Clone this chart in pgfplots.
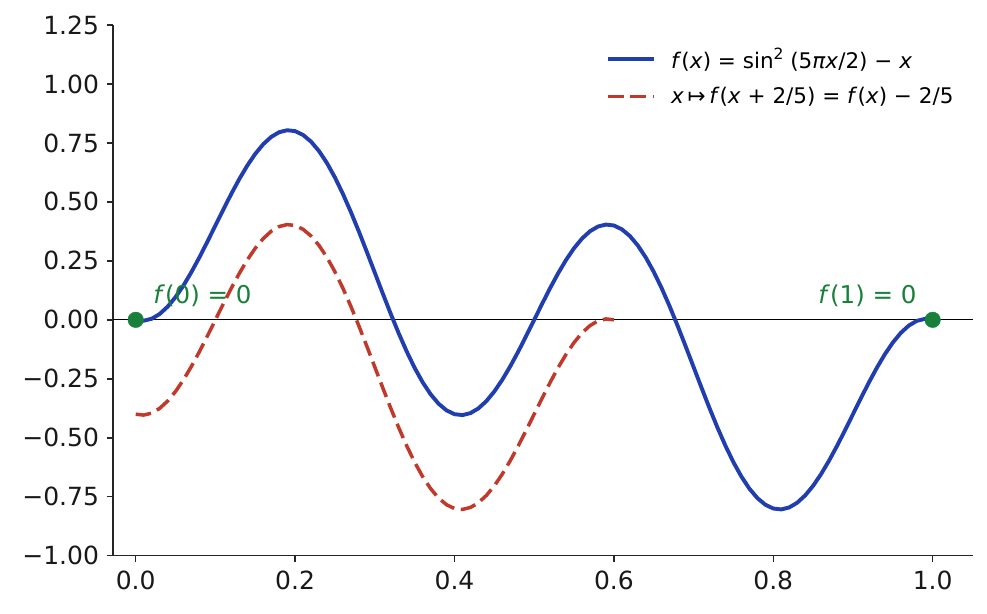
\documentclass[border=0pt]{standalone}
\usepackage{fontspec}
\setmainfont{DejaVu Sans}
\usepackage{pgfplots}
\usepackage{pgfplotstable}
\pgfplotsset{compat=1.18}

\definecolor{fblue}{RGB}{33,62,175}
\definecolor{gred}{RGB}{192,57,43}
\definecolor{dgreen}{RGB}{24,128,58}

% f(x) = sin^2(5 pi x/2) - x, sampled every 0.01
\pgfplotstableread{
x y
0.00 0.0
0.01 -0.0038
0.02 0.0045
0.03 0.0245
0.04 0.0555
0.05 0.0964
0.06 0.1461
0.07 0.2030
0.08 0.2655
0.09 0.3318
0.10 0.4
0.11 0.4682
0.12 0.5345
0.13 0.5970
0.14 0.6539
0.15 0.7036
0.16 0.7445
0.17 0.7755
0.18 0.7955
0.19 0.8038
0.20 0.8
0.21 0.7838
0.22 0.7555
0.23 0.7155
0.24 0.6645
0.25 0.6036
0.26 0.5339
0.27 0.4570
0.28 0.3745
0.29 0.2882
0.30 0.2
0.31 0.1118
0.32 0.0255
0.33 -0.0570
0.34 -0.1339
0.35 -0.2036
0.36 -0.2645
0.37 -0.3155
0.38 -0.3555
0.39 -0.3838
0.40 -0.4
0.41 -0.4038
0.42 -0.3955
0.43 -0.3755
0.44 -0.3445
0.45 -0.3036
0.46 -0.2539
0.47 -0.1970
0.48 -0.1345
0.49 -0.0682
0.50 0.0
0.51 0.0682
0.52 0.1345
0.53 0.1970
0.54 0.2539
0.55 0.3036
0.56 0.3445
0.57 0.3755
0.58 0.3955
0.59 0.4038
0.60 0.4
0.61 0.3838
0.62 0.3555
0.63 0.3155
0.64 0.2645
0.65 0.2036
0.66 0.1339
0.67 0.0570
0.68 -0.0255
0.69 -0.1118
0.70 -0.2
0.71 -0.2882
0.72 -0.3745
0.73 -0.4570
0.74 -0.5339
0.75 -0.6036
0.76 -0.6645
0.77 -0.7155
0.78 -0.7555
0.79 -0.7838
0.80 -0.8
0.81 -0.8038
0.82 -0.7955
0.83 -0.7755
0.84 -0.7445
0.85 -0.7036
0.86 -0.6539
0.87 -0.5970
0.88 -0.5345
0.89 -0.4682
0.90 -0.4
0.91 -0.3318
0.92 -0.2655
0.93 -0.2030
0.94 -0.1461
0.95 -0.0964
0.96 -0.0555
0.97 -0.0245
0.98 -0.0045
0.99 0.0038
1.00 0.0
}\fdata

% x -> f(x+2/5) = f(x) - 2/5 on [0, 0.6]
\pgfplotstableread{
x y
0.00 -0.4
0.01 -0.4038
0.02 -0.3955
0.03 -0.3755
0.04 -0.3445
0.05 -0.3036
0.06 -0.2539
0.07 -0.1970
0.08 -0.1345
0.09 -0.0682
0.10 0.0
0.11 0.0682
0.12 0.1345
0.13 0.1970
0.14 0.2539
0.15 0.3036
0.16 0.3445
0.17 0.3755
0.18 0.3955
0.19 0.4038
0.20 0.4
0.21 0.3838
0.22 0.3555
0.23 0.3155
0.24 0.2645
0.25 0.2036
0.26 0.1339
0.27 0.0570
0.28 -0.0255
0.29 -0.1118
0.30 -0.2
0.31 -0.2882
0.32 -0.3745
0.33 -0.4570
0.34 -0.5339
0.35 -0.6036
0.36 -0.6645
0.37 -0.7155
0.38 -0.7555
0.39 -0.7838
0.40 -0.8
0.41 -0.8038
0.42 -0.7955
0.43 -0.7755
0.44 -0.7445
0.45 -0.7036
0.46 -0.6539
0.47 -0.5970
0.48 -0.5345
0.49 -0.4682
0.50 -0.4
0.51 -0.3318
0.52 -0.2655
0.53 -0.2030
0.54 -0.1461
0.55 -0.0964
0.56 -0.0555
0.57 -0.0245
0.58 -0.0045
0.59 0.0038
0.60 0.0
}\gdata

% endpoints
\pgfplotstableread{
x y
0 0
1 0
}\ends

\newcommand{\sq}{\raisebox{0.42em}{\fontsize{15.5}{18}\selectfont 2}}

\begin{document}
\begin{tikzpicture}
\begin{axis}[
    name=ax,
    scale only axis,
    width=860.3pt, height=530.7pt,
    xmin=-0.0285, xmax=1.051,
    ymin=-1, ymax=1.25,
    axis x line*=bottom, axis y line*=left,
    axis line style={line width=1.5pt, black!85},
    tick align=outside,
    major tick length=6.5pt,
    tick style={line width=1.5pt, black!85},
    xtick={0,0.2,0.4,0.6,0.8,1},
    xticklabels={0.0,0.2,0.4,0.6,0.8,1.0},
    ytick={-1,-0.75,-0.5,-0.25,0,0.25,0.5,0.75,1,1.25},
    yticklabels={−1.00,−0.75,−0.50,−0.25,0.00,0.25,0.50,0.75,1.00,1.25},
    ticklabel style={font=\fontsize{25}{30}\selectfont, text=black!90},
    xticklabel style={yshift=-5pt},
    yticklabel style={xshift=-4pt},
    legend style={draw=none, fill=none, at={(0.5697,0.964)}, anchor=north west,
        font=\fontsize{21.5}{26}\selectfont, row sep=13pt,
        /tikz/every odd column/.append style={column sep=13pt}},
    legend cell align=left,
    legend image code/.code={\draw[#1] (0pt,0pt) -- (46pt,0pt);},
]
    % zero line
    \addplot[black, line width=1.1pt, forget plot] coordinates {(-0.0285,0) (1.051,0)};

    \addplot[fblue, line width=3.9pt] table[x=x, y=y] {\fdata};
    \addlegendentry{\textit{f}(\textit{x}) = sin\sq\ (5\textit{πx}/2) − \textit{x}}

    \addplot[gred, line width=3.5pt, dash pattern=on 15.5pt off 6.7pt] table[x=x, y=y] {\gdata};
    \addlegendentry{\textit{x}\,↦\,\textit{f}(\textit{x} + 2/5) = \textit{f}(\textit{x}) − 2/5}

    \addplot[only marks, mark=*, mark size=7.8pt, dgreen, forget plot] table[x=x, y=y] {\ends};

    \node[anchor=base west, text=dgreen, font=\fontsize{24.5}{29}\selectfont, inner sep=0pt]
        at (axis cs:0.022,0.07) {\textit{f}(0) = 0};
    \node[anchor=base east, text=dgreen, font=\fontsize{24.5}{29}\selectfont, inner sep=0pt]
        at (axis cs:0.98,0.07) {\textit{f}(1) = 0};
\end{axis}
\pgfresetboundingbox
\path[use as bounding box] ([xshift=-113pt,yshift=-57.3pt]ax.south west)
    rectangle ([xshift=13.7pt,yshift=25pt]ax.north east);
\end{tikzpicture}
\end{document}
